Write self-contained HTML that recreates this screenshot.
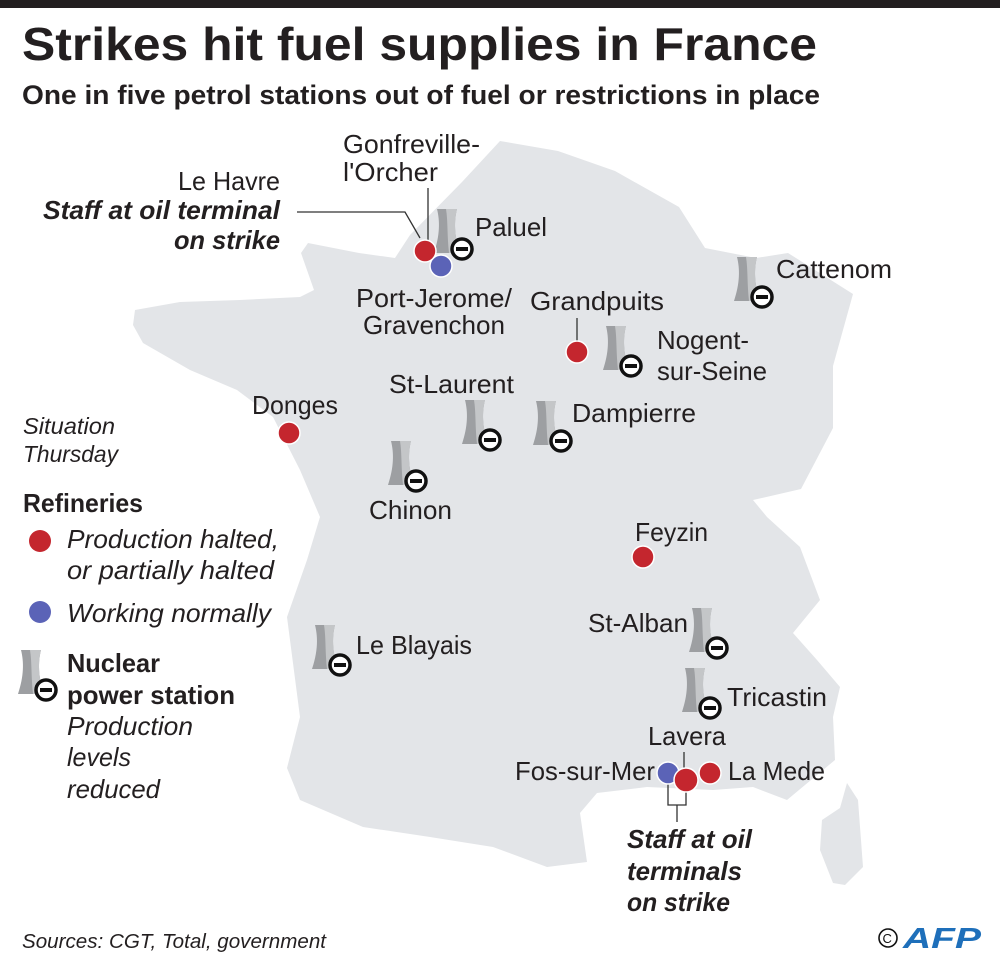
<!DOCTYPE html>
<html><head><meta charset="utf-8"><style>
html,body{margin:0;padding:0;background:#fff}
svg{display:block}
text{font-family:"Liberation Sans Narrow","Liberation Sans",sans-serif;fill:#231f20}
.b{font-weight:bold}.i{font-style:italic}
</style></head><body>
<svg width="1000" height="962" viewBox="0 0 1000 962" xmlns="http://www.w3.org/2000/svg">
<defs>
<g id="nuc">
<path d="M-25,-40 L-5,-40 C-8,-28 -8,-14 -2,4 L-28,4 C-22,-14 -22,-28 -25,-40 Z" fill="#9d9fa2"/>
<path d="M-25,-40 L-5,-40 C-8,-28 -8,-14 -2,4 L-13,4 C-15,-14 -14,-28 -16,-40 Z" fill="#c4c6c8"/>
<circle cx="0" cy="0" r="10" fill="#fff" stroke="#111" stroke-width="3.5"/>
<rect x="-6" y="-2" width="12" height="4" fill="#111"/>
</g>
</defs>
<rect x="0" y="0" width="1000" height="8" fill="#231f20"/>
<path fill="#e3e5e8" d="M500,141 L558,151 L615,171 L679,207 L705,248 L756,258 L788,253 L853,294 L833,366 L833,428 L801,489 L753,500 L767,517 L800,547 L820,600 L793,633 L817,660 L840,687 L833,717 L835,760 L787,800 L753,787 L713,790 L647,787 L597,793 L580,813 L587,862 L547,867 L493,847 L430,837 L363,827 L300,800 L287,768 L300,717 L287,617 L307,560 L320,517 L300,470 L273,417 L237,390 L190,370 L143,343 L133,325 L135,310 L180,302 L240,300 L300,297 L314,290 L301,253 L308,243 L359,253 L395,258 L410,235 L462,182 Z"/>
<path fill="#e3e5e8" d="M847,783 L858,800 L863,867 L845,885 L833,883 L820,850 L822,820 L840,808 Z"/>
<text x="22" y="60" class="b" font-size="46" textLength="795" lengthAdjust="spacingAndGlyphs">Strikes hit fuel supplies in France</text>
<text x="22" y="104" class="b" font-size="27" textLength="798" lengthAdjust="spacingAndGlyphs">One in five petrol stations out of fuel or restrictions in place</text>
<g stroke="#333" stroke-width="1.3" fill="none">
<polyline points="297,212 405,212 420,238"/>
<line x1="428" y1="188" x2="428" y2="240"/>
<line x1="577" y1="318" x2="577" y2="342"/>
<line x1="684" y1="752" x2="684" y2="770"/>
<polyline points="668,783 668,805 686,805 686,790"/>
<line x1="677" y1="805" x2="677" y2="822"/>
</g>
<use href="#nuc" x="462" y="249"/>
<use href="#nuc" x="762" y="297"/>
<use href="#nuc" x="631" y="366"/>
<use href="#nuc" x="490" y="440"/>
<use href="#nuc" x="561" y="441"/>
<use href="#nuc" x="416" y="481"/>
<use href="#nuc" x="340" y="665"/>
<use href="#nuc" x="717" y="648"/>
<use href="#nuc" x="710" y="708"/>
<use href="#nuc" x="46" y="690"/>
<g stroke="#fff" stroke-width="1.5">
<circle cx="441" cy="266" r="11" fill="#5b63b7"/>
<circle cx="425" cy="251" r="11" fill="#c4262e"/>
<circle cx="577" cy="352" r="11" fill="#c4262e"/>
<circle cx="289" cy="433" r="11" fill="#c4262e"/>
<circle cx="643" cy="557" r="11" fill="#c4262e"/>
<circle cx="668" cy="773" r="11" fill="#5b63b7"/>
<circle cx="710" cy="773" r="11" fill="#c4262e"/>
<circle cx="686" cy="780" r="12" fill="#c4262e"/>
<circle cx="40" cy="541" r="11" fill="#c4262e" stroke="none"/>
<circle cx="40" cy="612" r="11" fill="#5b63b7" stroke="none"/>
</g>
<g font-size="26">
<text x="343" y="153" textLength="137" lengthAdjust="spacingAndGlyphs">Gonfreville-</text>
<text x="343" y="181" textLength="95" lengthAdjust="spacingAndGlyphs">l'Orcher</text>
<text x="178" y="190" textLength="102" lengthAdjust="spacingAndGlyphs">Le Havre</text>
<text x="43" y="219" class="b i" textLength="237" lengthAdjust="spacingAndGlyphs">Staff at oil terminal</text>
<text x="174" y="249" class="b i" textLength="106" lengthAdjust="spacingAndGlyphs">on strike</text>
<text x="475" y="236" textLength="72" lengthAdjust="spacingAndGlyphs">Paluel</text>
<text x="776" y="278" textLength="116" lengthAdjust="spacingAndGlyphs">Cattenom</text>
<text x="356" y="307" textLength="156" lengthAdjust="spacingAndGlyphs">Port-Jerome/</text>
<text x="363" y="334" textLength="142" lengthAdjust="spacingAndGlyphs">Gravenchon</text>
<text x="530" y="310" textLength="134" lengthAdjust="spacingAndGlyphs">Grandpuits</text>
<text x="657" y="349" textLength="92" lengthAdjust="spacingAndGlyphs">Nogent-</text>
<text x="657" y="380" textLength="110" lengthAdjust="spacingAndGlyphs">sur-Seine</text>
<text x="389" y="393" textLength="125" lengthAdjust="spacingAndGlyphs">St-Laurent</text>
<text x="252" y="414" textLength="86" lengthAdjust="spacingAndGlyphs">Donges</text>
<text x="572" y="422" textLength="124" lengthAdjust="spacingAndGlyphs">Dampierre</text>
<text x="369" y="519" textLength="83" lengthAdjust="spacingAndGlyphs">Chinon</text>
<text x="635" y="541" textLength="73" lengthAdjust="spacingAndGlyphs">Feyzin</text>
<text x="588" y="632" textLength="100" lengthAdjust="spacingAndGlyphs">St-Alban</text>
<text x="356" y="654" textLength="116" lengthAdjust="spacingAndGlyphs">Le Blayais</text>
<text x="727" y="706" textLength="100" lengthAdjust="spacingAndGlyphs">Tricastin</text>
<text x="648" y="745" textLength="78" lengthAdjust="spacingAndGlyphs">Lavera</text>
<text x="515" y="780" textLength="140" lengthAdjust="spacingAndGlyphs">Fos-sur-Mer</text>
<text x="728" y="780" textLength="97" lengthAdjust="spacingAndGlyphs">La Mede</text>
<text x="627" y="848" class="b i" textLength="125" lengthAdjust="spacingAndGlyphs">Staff at oil</text>
<text x="627" y="880" class="b i" textLength="115" lengthAdjust="spacingAndGlyphs">terminals</text>
<text x="627" y="911" class="b i" textLength="103" lengthAdjust="spacingAndGlyphs">on strike</text>
<text x="23" y="512" class="b" textLength="120" lengthAdjust="spacingAndGlyphs">Refineries</text>
<text x="67" y="548" class="i" textLength="212" lengthAdjust="spacingAndGlyphs">Production halted,</text>
<text x="67" y="579" class="i" textLength="207" lengthAdjust="spacingAndGlyphs">or partially halted</text>
<text x="67" y="622" class="i" textLength="204" lengthAdjust="spacingAndGlyphs">Working normally</text>
<text x="67" y="672" class="b" textLength="93" lengthAdjust="spacingAndGlyphs">Nuclear</text>
<text x="67" y="704" class="b" textLength="168" lengthAdjust="spacingAndGlyphs">power station</text>
<text x="67" y="735" class="i" textLength="126" lengthAdjust="spacingAndGlyphs">Production</text>
<text x="67" y="766" class="i" textLength="64" lengthAdjust="spacingAndGlyphs">levels</text>
<text x="67" y="798" class="i" textLength="93" lengthAdjust="spacingAndGlyphs">reduced</text>
</g>
<text x="23" y="434" class="i" font-size="23" textLength="92" lengthAdjust="spacingAndGlyphs">Situation</text>
<text x="23" y="462" class="i" font-size="23" textLength="95" lengthAdjust="spacingAndGlyphs">Thursday</text>
<text x="22" y="948" class="i" font-size="20" textLength="304" lengthAdjust="spacingAndGlyphs">Sources: CGT, Total, government</text>
<circle cx="888" cy="938" r="9" fill="none" stroke="#111" stroke-width="1.6"/>
<text x="882.5" y="943" font-size="13" style="fill:#111">C</text>
<text x="903" y="948" class="b i" font-size="29" textLength="78" lengthAdjust="spacingAndGlyphs" style="fill:#1e6fba">AFP</text>
</svg>
</body></html>
